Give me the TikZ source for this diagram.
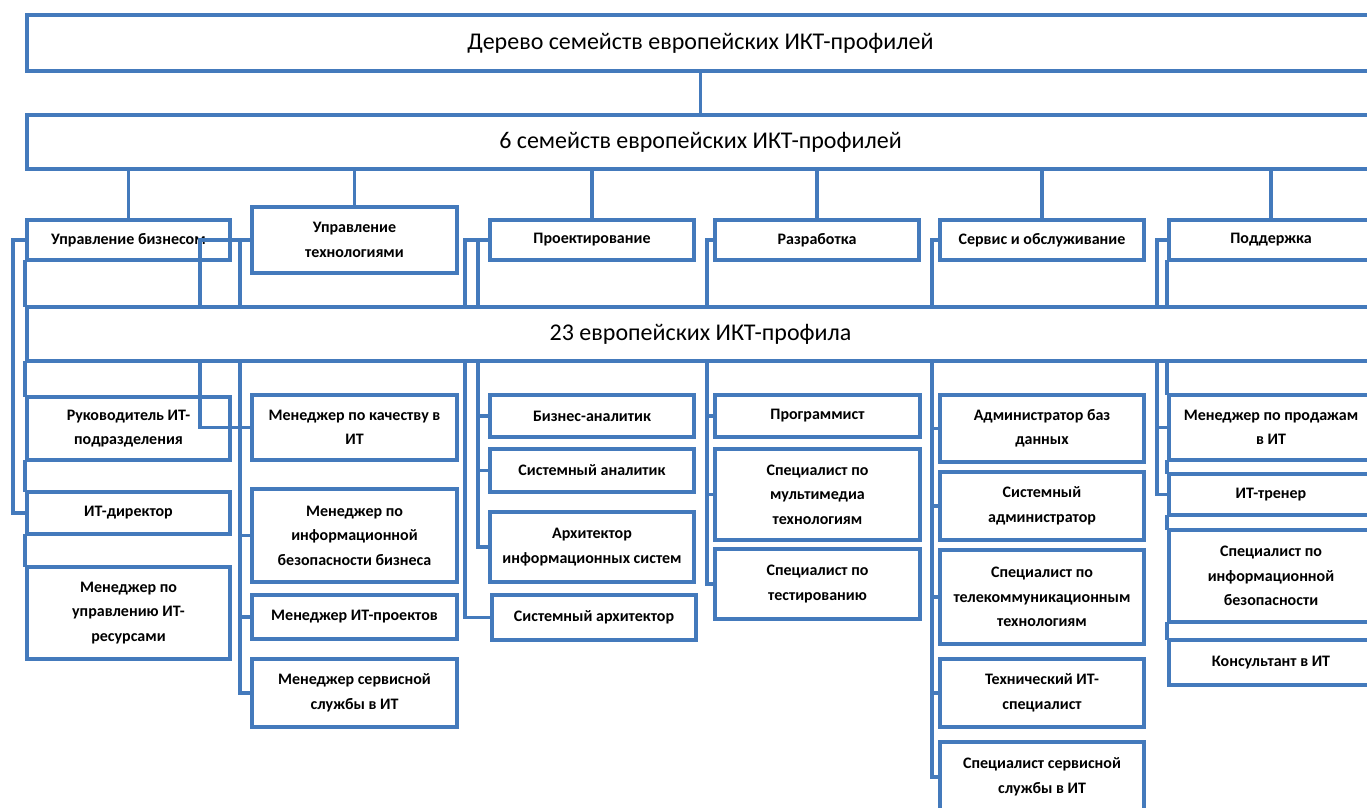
\documentclass[tikz,border=0pt]{standalone}
\usepackage{fontspec}
\setmainfont{Carlito}
\definecolor{bl}{RGB}{68,122,188}
\tikzset{
  box/.style={draw=bl,line width=4pt,fill=white,inner sep=0pt,align=center,
    font={\fontsize{16pt}{24.5pt}\selectfont\bfseries}},
  bigbox/.style={box,font={\fontsize{24pt}{28pt}\selectfont}},
  conn/.style={draw=bl,line width=3.8pt,line cap=rect}
}
\newcommand\bx[7][box]{\node[#1,anchor=north west,minimum width={(#5)-(#3)},minimum height={(#6)-(#4)}] (#2) at (#3,#4) {#7};}
\begin{document}
\begin{tikzpicture}[x=1pt,y=-1pt]
\useasboundingbox (0,0) rectangle (1367,807);
\begin{scope}
\clip (0,0) rectangle (1367,807);
% elbow x positions
\coordinate (xa) at (13,0);
\coordinate (xb) at (200,0);
\coordinate (xc) at (240,0);
\coordinate (xd) at (465,0);
\coordinate (xe) at (478,0);
\coordinate (xf) at (707,0);
\coordinate (xg) at (932,0);
\coordinate (xh) at (1157,0);
% main boxes (right edges lie beyond the picture)
\bx[bigbox]{top}{25}{13}{1372}{69}{Дерево семейств европейских ИКТ-профилей}
\bx[bigbox]{fam}{25}{113}{1372}{167}{6 семейств европейских ИКТ-профилей}
\bx[bigbox]{p23}{25}{305}{1372}{359}{23 европейских ИКТ-профила}
% family boxes
\bx{ub}{25}{218}{228}{258}{Управление бизнесом}
\bx{ut}{250}{205}{455}{271}{Управление\\технологиями}
\bx{pr}{488}{218}{692}{258}{Проектирование}
\bx{raz}{713}{218}{917}{258}{Разработка}
\bx{ser}{938}{218}{1142}{258}{Сервис и обслуживание}
\bx{pod}{1167}{218}{1371}{258}{Поддержка}
% connectors top
\draw[conn] (top.south -| fam.north) -- (fam.north);
\foreach \n in {ub,ut,pr,raz,ser,pod}{
  \draw[conn] (\n.north) -- (\n.north |- fam.south);
}
% column 1 children
\bx{rk}{25}{395}{228}{458}{Руководитель ИТ-\\подразделения}
\bx{itd}{25}{490}{228}{532}{ИТ-директор}
\bx{mur}{25}{565}{228}{657}{Менеджер по\\управлению ИТ-\\ресурсами}
% column 2 children
\bx{mk}{250}{393}{455}{458}{Менеджер по качеству в\\ИТ}
\bx{mib}{250}{487}{455}{580}{Менеджер по\\информационной\\безопасности бизнеса}
\bx{mip}{250}{593}{455}{637}{Менеджер ИТ-проектов}
\bx{ms}{250}{657}{455}{725}{Менеджер сервисной\\службы в ИТ}
% column 3 children
\bx{ba}{488}{393}{692}{435}{Бизнес-аналитик}
\bx{sa}{488}{447}{692}{490}{Системный аналитик}
\bx{ais}{488}{510}{692}{580}{Архитектор\\информационных систем}
\bx{sar}{490}{593}{694}{638}{Системный архитектор}
% column 4 children
\bx{prg}{713}{393}{918}{435}{Программист}
\bx{mm}{713}{447}{918}{538}{Специалист по\\мультимедиа\\технологиям}
\bx{tst}{713}{547}{918}{617}{Специалист по\\тестированию}
% column 5 children
\bx{adb}{938}{393}{1142}{460}{Администратор баз\\данных}
\bx{sad}{938}{470}{1142}{538}{Системный\\администратор}
\bx{tel}{938}{548}{1142}{642}{Специалист по\\телекоммуникационным\\технологиям}
\bx{tech}{938}{657}{1142}{725}{Технический ИТ-\\специалист}
\bx{sss}{938}{740}{1142}{810}{Специалист сервисной\\службы в ИТ}
% column 6 children
\bx{mpr}{1167}{393}{1371}{458}{Менеджер по продажам\\в ИТ}
\bx{itt}{1167}{472}{1371}{513}{ИТ-тренер}
\bx{sib}{1167}{528}{1371}{620}{Специалист по\\информационной\\безопасности}
\bx{kit}{1167}{638}{1371}{683}{Консультант в ИТ}
% column 1 connectors
\draw[conn] (ub.west) -| (xa |- itd.west) -- (itd.west);
\draw[conn] (ub.south west) -- (ub.south west |- p23.north);
\draw[conn] (rk.north west |- p23.south) -- (rk.north west);
\draw[conn] (rk.south west) -- (itd.north west);
\draw[conn] (itd.south west) -- (mur.north west);
% column 2 connectors
\draw[conn] (ut.west) -| (xb |- p23.north);
\draw[conn] (xc |- ut.west) -- (xc |- p23.north);
\draw[conn] (xb |- p23.south) |- (mk.west);
\draw[conn] (xc |- p23.south) |- (ms.west);
\draw[conn] (xc |- mib.west) -- (mib.west);
\draw[conn] (xc |- mip.west) -- (mip.west);
% column 3 connectors
\draw[conn] (pr.west) -| (xd |- p23.north);
\draw[conn] (xe |- pr.west) -- (xe |- p23.north);
\draw[conn] (xe |- p23.south) |- (ais.west);
\draw[conn] (xe |- ba.west) -- (ba.west);
\draw[conn] (xe |- sa.west) -- (sa.west);
\draw[conn] (xd |- p23.south) |- (sar.west);
% column 4 connectors
\draw[conn] (raz.west) -| (xf |- p23.north);
\draw[conn] (xf |- p23.south) |- (tst.west);
\draw[conn] (xf |- prg.west) -- (prg.west);
\draw[conn] (xf |- mm.west) -- (mm.west);
% column 5 connectors
\draw[conn] (ser.west) -| (xg |- p23.north);
\draw[conn] (xg |- p23.south) |- (sss.west);
\foreach \n in {adb,sad,tel,tech}{
  \draw[conn] (xg |- \n.west) -- (\n.west);
}
% column 6 connectors
\draw[conn] (pod.west) -| (xh |- p23.north);
\draw[conn] (pod.south west) -- (pod.south west |- p23.north);
\draw[conn] (xh |- p23.south) |- (itt.west);
\draw[conn] (xh |- mpr.west) -- (mpr.west);
\draw[conn] (mpr.north west |- p23.south) -- (mpr.north west);
\draw[conn] (mpr.south west) -- (itt.north west);
\draw[conn] (itt.south west) -- (sib.north west);
\draw[conn] (sib.south west) -- (kit.north west);
\end{scope}
\end{tikzpicture}
\end{document}
